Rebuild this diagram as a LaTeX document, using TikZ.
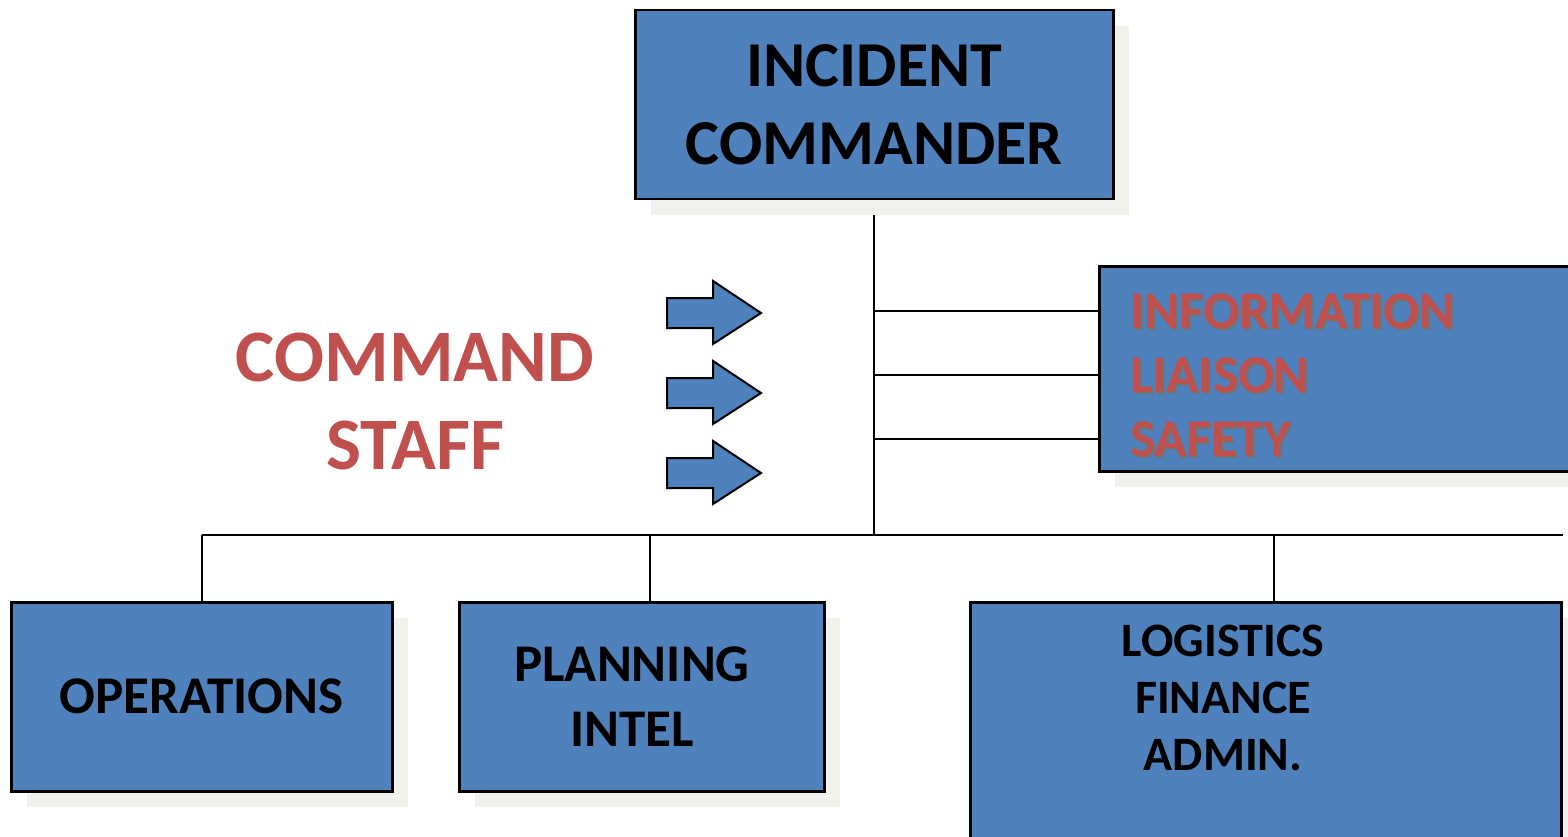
\documentclass[tikz,border=0pt]{standalone}
\usepackage{fontspec}
\setmainfont{Carlito}
\usetikzlibrary{shadows,backgrounds}
\definecolor{icsblue}{HTML}{4F81BD}
\definecolor{icsred}{HTML}{C0504D}
\definecolor{paper}{HTML}{F2F1EB}
\def\sz#1#2{\fontsize{#1}{#2}\selectfont}

\begin{document}
\begin{tikzpicture}[x=1pt,y=-1pt,
  box/.style={rectangle,draw=black,line width=2.5pt,fill=icsblue,inner sep=0pt,anchor=north west,
    align=center,font=\bfseries,
    drop shadow={shadow xshift=16pt,shadow yshift=-16pt,fill=paper,opacity=1}},
  link/.style={draw=black,line width=2pt},
  staff arrow/.style={draw=black,line width=2pt,fill=icsblue,line join=miter},
  caption/.style={inner sep=0pt,font=\bfseries}]
  \useasboundingbox (0,0) rectangle (1568,837);
  \clip (0,0) rectangle (1568,837);

  % the five boxes
  \node[box,minimum width=478pt,minimum height=189pt,font=\bfseries\sz{64}{78}] (ic) at (634,9) {INCIDENT\\COMMANDER};
  \node[box,minimum width=500pt,minimum height=205pt] (info) at (1098,265) {};
  \node[box,minimum width=381pt,minimum height=189pt,font=\bfseries\sz{53}{60}] (ops) at (10,601) {OPERATIONS};
  \node[box,minimum width=365pt,minimum height=189pt] (plan) at (458,601) {};
  \node[box,minimum width=591pt,minimum height=260pt] (log) at (969,601) {};

  % texts
  \node[caption,align=center,font=\bfseries\sz{53}{65}] (plantext) at (632,697) {PLANNING\\INTEL};
  \node[caption,align=center,font=\bfseries\sz{48}{57}] (logtext) at (1223,698) {LOGISTICS\\FINANCE\\ADMIN.};
  \node[caption,align=center,text=icsred,font=\bfseries\sz{74}{88}] (staff) at (415,401) {COMMAND\\STAFF};
  \node[caption,align=left,anchor=west,text=black!55,font=\bfseries\sz{53}{64}] (infoshade) at (1132,377) {INFORMATION\\LIAISON\\SAFETY};
  \node[caption,align=left,anchor=west,text=icsred,font=\bfseries\sz{53}{64}] (infotext) at (1130,375) {INFORMATION\\LIAISON\\SAFETY};

  % arrows
  \foreach \y in {313,393,473}
    \draw[staff arrow] (667,\y-15) -- (713,\y-15) -- (713,\y-32) -- (761,\y) -- (713,\y+31) -- (713,\y+15) -- (667,\y+15) -- cycle;

  % lines
  \coordinate (hub) at (ic.south |- 0,535);
  \coordinate (plandrop) at ([xshift=8pt]plan.north);
  \coordinate (logdrop) at ([xshift=8pt]log.north);
  \begin{scope}[on background layer]
    \draw[link] (ic.south) -- (hub);
    \draw[link] (ops.north |- hub) -- (log.north east |- hub);
    \draw[link] (ops.north |- hub) -- (ops.north);
    \draw[link] (plandrop |- hub) -- (plandrop);
    \draw[link] (logdrop |- hub) -- (logdrop);
    \foreach \y in {311,375,439}
      \draw[link] (ic.south |- 0,\y) -- (info.west |- 0,\y);
  \end{scope}
\end{tikzpicture}
\end{document}
